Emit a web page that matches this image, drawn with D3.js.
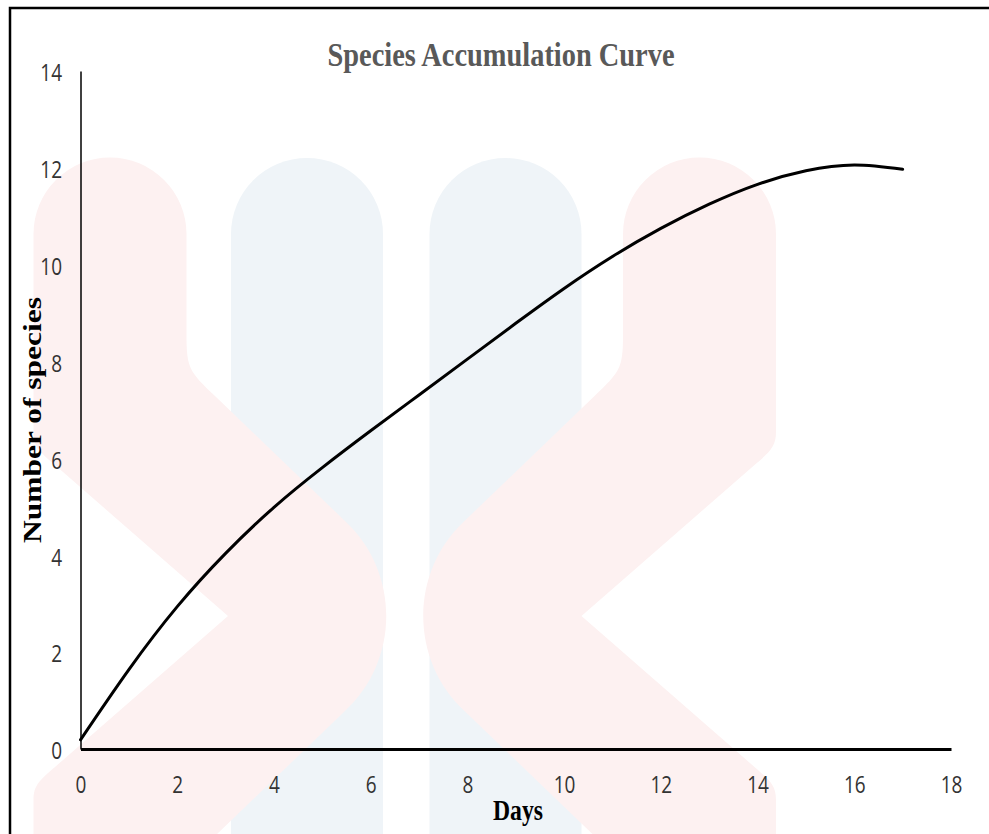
<!DOCTYPE html>
<html>
	<head>
		<title>Species Accumulation Curve</title>
		<script src="https://d3js.org/d3.v7.min.js"></script>
		<style>
			body { margin: 0; background: #fff; }
			.tick text {
			  font-family: "Open Sans", sans-serif;
			  font-size: 19px;
			  fill: #333;
			}
			.serif {
			  font-family: "Liberation Serif", "Times New Roman", serif;
			  font-weight: bold;
			}
		</style>
	</head>
	<body>
		<svg width="989" height="834"></svg>

		<script type="text/javascript">
			// values, one per day
			var days = [0, 1, 2, 3, 4, 5, 6, 7, 8, 9, 10, 11, 12, 13, 14, 15, 16, 17];
			var species = [0.19, 1.64, 2.94, 4.04, 4.99, 5.81, 6.57, 7.31, 8.05, 8.79, 9.51, 10.17, 10.75, 11.25, 11.66, 11.94, 12.06, 11.97];

			var xTicks = [0, 2, 4, 6, 8, 10, 12, 14, 16, 18];
			var yTicks = [0, 2, 4, 6, 8, 10, 12, 14];

			var svg = d3.select('svg');

			// faint logo watermark behind the chart
			var bg = svg.append('g');
			[307, 505.5].forEach(function(cx) {
				bg.append('path')
				  .attr('d', 'M' + cx + ',234 V1000')
				  .attr('stroke', '#eff4f8')
				  .attr('stroke-width', 152)
				  .attr('stroke-linecap', 'round')
				  .attr('fill', 'none');
			});
			var chevron = 'M33.5,234 A76.5,76.5 0 0 1 186.5,234 L186.5,335 C186.5,369 190,372 215,396 ' +
			              'L345,521 C400,572 400,660 345,711 L215,836 C190,860 186.5,863 186.5,897 L186.5,1000 ' +
			              'L33.5,1000 L33.5,800 C33.5,785 40,780 55,767 L228,616 L55,465 C40,452 33.5,447 33.5,432 Z';
			bg.append('path').attr('d', chevron).attr('fill', '#fdf1f1');
			bg.append('path').attr('d', chevron).attr('fill', '#fdf1f1')
			  .attr('transform', 'translate(809.5,0) scale(-1,1)');

			// outer frame
			svg.append('rect')
			  .attr('x', 10).attr('y', 8)
			  .attr('width', 1000).attr('height', 1000)
			  .attr('fill', 'none')
			  .attr('stroke', '#000')
			  .attr('stroke-width', 2.5);

			var x = d3.scaleLinear().domain([0, 18]).range([80.5, 951]);
			var y = d3.scaleLinear().domain([0, 14]).range([749, 71]);

			var xAxis = svg.append('g')
			  .attr('transform', 'translate(0,' + y(0) + ')')
			  .call(d3.axisBottom(x).tickValues(xTicks).tickSize(0).tickSizeOuter(0));
			xAxis.select('.domain').attr('stroke', '#000').attr('stroke-width', 3);
			xAxis.selectAll('.tick text')
			  .attr('y', 28).attr('dy', '0.36em')
			  .attr('transform', 'scale(1,1.25)');

			var yAxis = svg.append('g')
			  .attr('transform', 'translate(' + x(0) + ',0)')
			  .call(d3.axisLeft(y).tickValues(yTicks).tickSize(0).tickSizeOuter(0));
			yAxis.select('.domain').attr('stroke', '#000').attr('stroke-width', 1.5);
			yAxis.selectAll('.tick text')
			  .attr('x', -18.5).attr('y', 1).attr('dy', '0.36em')
			  .attr('transform', 'scale(1,1.25)');

			var line = d3.line()
			  .x(function(d, i) { return x(days[i]); })
			  .y(function(d) { return y(d); })
			  .curve(d3.curveNatural);

			svg.append('path')
			  .datum(species)
			  .attr('d', line)
			  .attr('fill', 'none')
			  .attr('stroke', '#000')
			  .attr('stroke-width', 3)
			  .attr('stroke-linecap', 'round');

			// titles
			svg.append('text')
			  .attr('class', 'serif')
			  .attr('transform', 'translate(501,66) scale(1,1.2)')
			  .attr('text-anchor', 'middle')
			  .attr('font-size', 28)
			  .attr('fill', '#595959')
			  .attr('textLength', 347)
			  .attr('lengthAdjust', 'spacingAndGlyphs')
			  .text('Species Accumulation Curve');

			svg.append('text')
			  .attr('class', 'serif')
			  .attr('transform', 'translate(518,820) scale(1,1.2)')
			  .attr('text-anchor', 'middle')
			  .attr('font-size', 24)
			  .attr('fill', '#000')
			  .attr('textLength', 50)
			  .attr('lengthAdjust', 'spacingAndGlyphs')
			  .text('Days');

			svg.append('text')
			  .attr('class', 'serif')
			  .attr('transform', 'translate(41,420) rotate(-90)')
			  .attr('text-anchor', 'middle')
			  .attr('font-size', 25)
			  .attr('fill', '#000')
			  .attr('textLength', 246)
			  .attr('lengthAdjust', 'spacingAndGlyphs')
			  .text('Number of species');
		</script>
	</body>
</html>
